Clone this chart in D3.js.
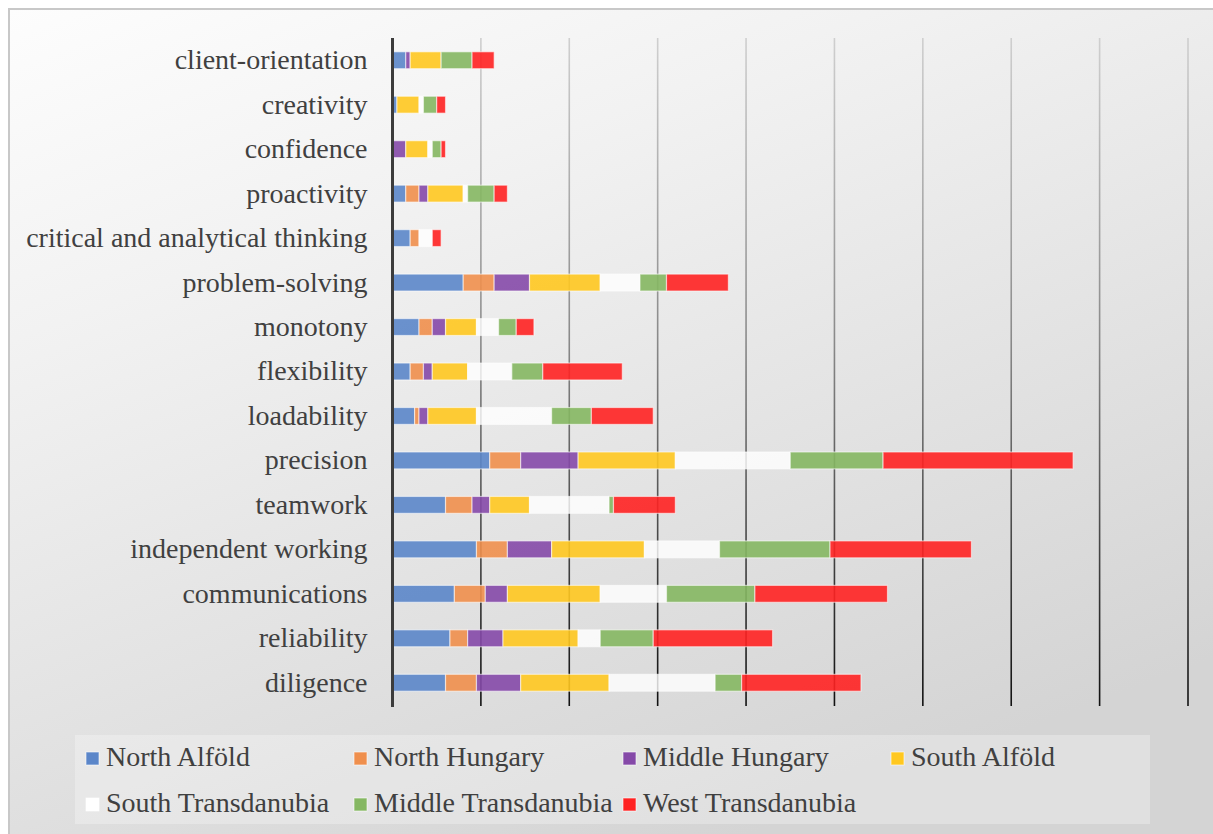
<!DOCTYPE html>
<html>
<head>
<meta charset="utf-8">
<script src="https://cdn.jsdelivr.net/npm/d3@7"></script>
<style>
html,body{margin:0;padding:0;background:#fff;overflow:hidden;}
svg{display:block;}
</style>
</head>
<body>
<svg id="chart" width="1213" height="834"></svg>
<script>
const categories = ["client-orientation","creativity","confidence","proactivity","critical and analytical thinking","problem-solving","monotony","flexibility","loadability","precision","teamwork","independent working","communications","reliability","diligence"];
const seriesNames = ["North Alföld","North Hungary","Middle Hungary","South Alföld","South Transdanubia","Middle Transdanubia","West Transdanubia"];
const northAlfold   = [3,1,0,3,4,16,6,4,5,22,12,19,14,13,12];
const northHungary  = [0,0,0,3,2,7,3,3,1,7,6,7,7,4,7];
const middleHungary = [1,0,3,2,0,8,3,2,2,13,4,10,5,8,10];
const southAlfold   = [7,5,5,8,0,16,7,8,11,22,9,21,21,17,20];
const southTrans    = [0,1,1,1,3,9,5,10,17,26,18,17,15,5,24];
const middleTrans   = [7,3,2,6,0,6,4,7,9,21,1,25,20,12,6];
const westTrans     = [5,2,1,3,2,14,4,18,14,43,14,32,30,27,27];
const colors = ["#5b86c9","#ef8f4d","#8549a8","#ffc820","#ffffff","#85b762","#ff2222"];
const xTicks = [0,20,40,60,80,100,120,140,160,180];

const seriesValues = [northAlfold,northHungary,middleHungary,southAlfold,southTrans,middleTrans,westTrans];
const rows = categories.map((c,i)=>{
  const o = {cat:c};
  seriesNames.forEach((s,j)=>{ o[s] = seriesValues[j][i]; });
  return o;
});

const svg = d3.select("#chart");
const defs = svg.append("defs");
const bg = defs.append("linearGradient").attr("id","bgGrad")
  .attr("x1","0").attr("y1","0").attr("x2","0.55").attr("y2","1");
bg.append("stop").attr("offset","0%").attr("stop-color","#fdfdfd");
bg.append("stop").attr("offset","30%").attr("stop-color","#f2f2f2");
bg.append("stop").attr("offset","100%").attr("stop-color","#d4d4d4");

const gg = defs.append("linearGradient").attr("id","gridGrad")
  .attr("gradientUnits","userSpaceOnUse")
  .attr("x1",0).attr("y1",38).attr("x2",0).attr("y2",706);
gg.append("stop").attr("offset","0%").attr("stop-color","#cfcfcf");
gg.append("stop").attr("offset","45%").attr("stop-color","#8a8a8a");
gg.append("stop").attr("offset","100%").attr("stop-color","#111");

// background frame
svg.append("rect").attr("x",9).attr("y",9).attr("width",1230).attr("height",850)
  .attr("fill","url(#bgGrad)").attr("stroke","#c8c8c8").attr("stroke-width",2);

const x = d3.scaleLinear().domain([0,180]).range([392.5,1188]);
const y = d3.scaleBand().domain(categories).range([38,705]).paddingInner(0.62).paddingOuter(0.31);

// gridlines
svg.append("g").selectAll("line").data(xTicks.filter(t=>t>0)).join("line")
  .attr("x1",d=>x(d)).attr("x2",d=>x(d)).attr("y1",38).attr("y2",706)
  .attr("stroke","url(#gridGrad)").attr("stroke-width",1.6);

// bars
const stack = d3.stack().keys(seriesNames);
const stacked = stack(rows);
svg.append("g").selectAll("g").data(stacked).join("g")
  .attr("fill",(d,i)=>colors[i])
  .attr("fill-opacity",(d,i)=> i===4 ? 0.8 : 0.9)
  .selectAll("rect").data(d=>d.filter(p=>p[1]-p[0]>0)).join("rect")
  .attr("x",d=>x(d[0])).attr("width",d=>x(d[1])-x(d[0]))
  .attr("y",d=>y(d.data.cat)).attr("height",y.bandwidth())
  .attr("stroke","rgba(255,255,255,0.55)").attr("stroke-width",1.2);

// vertical axis line
svg.append("line").attr("x1",392.5).attr("x2",392.5).attr("y1",38).attr("y2",707)
  .attr("stroke","#3c3c3c").attr("stroke-width",3);

// category labels
const yAxis = svg.append("g").attr("transform","translate(392.5,0)")
  .call(d3.axisLeft(y).tickSize(0).tickPadding(25));
yAxis.select(".domain").remove();
yAxis.selectAll("text").attr("font-family","'Liberation Serif','Times New Roman',serif")
  .attr("font-size","28px").attr("fill","#404040");

// legend
svg.append("rect").attr("x",75).attr("y",735).attr("width",1075).attr("height",89)
  .attr("fill","#ffffff").attr("fill-opacity",0.28);
const legX = [86,354,623,891];
const legend = svg.append("g").selectAll("g").data(seriesNames).join("g")
  .attr("transform",(d,i)=>`translate(${legX[i%4]},${i<4?752:798})`);
legend.append("rect").attr("width",13).attr("height",13)
  .attr("fill",(d,i)=>colors[i]).attr("stroke","rgba(255,255,255,0.6)").attr("stroke-width",1);
legend.append("text").attr("x",20).attr("y",14)
  .attr("font-family","'Liberation Serif','Times New Roman',serif")
  .attr("font-size","28px").attr("fill","#404040").text(d=>d);
</script>
</body>
</html>
